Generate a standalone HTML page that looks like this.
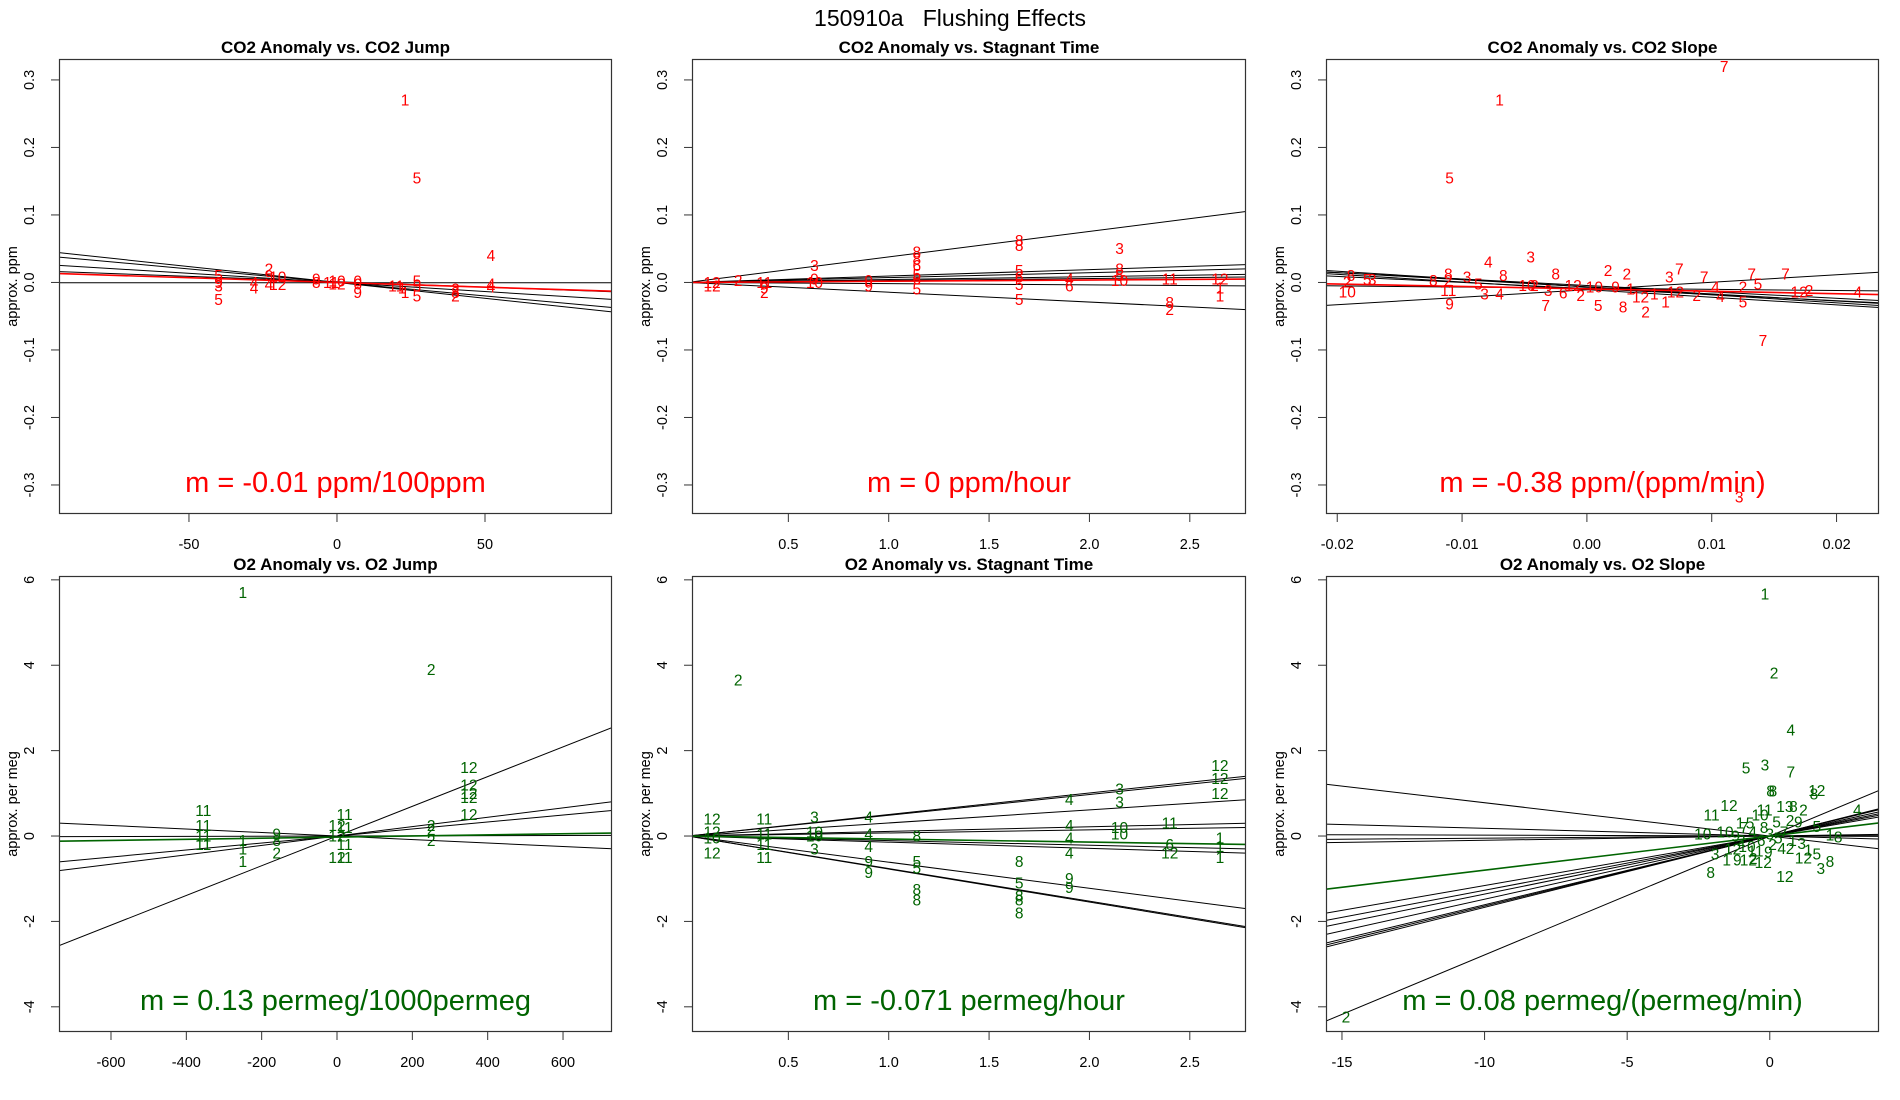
<!DOCTYPE html>
<html><head><meta charset="utf-8"><title>150910a Flushing Effects</title>
<style>
html,body{margin:0;padding:0;background:#fff;}
svg{display:block;font-family:"Liberation Sans",Arial,sans-serif;}
</style></head>
<body>
<svg id="chart" width="1900" height="1100" viewBox="0 0 1900 1100" xmlns="http://www.w3.org/2000/svg">
<rect x="0" y="0" width="1900" height="1100" fill="#fff"/>
<text x="950" y="26" text-anchor="middle" font-size="23" fill="#000">150910a&#160;&#160;&#160;Flushing Effects</text>
</svg>
<script>
// ---------- Panel 1: CO2 Anomaly vs CO2 Jump ----------
const p1X = [23,27,52,-40,-40,-40,-40,-28,-28,-23,-23,-20,-20,-23,-7,-7,-2,0,0,7,7,7,20,22,23,27,27,27,40,40,40,52,52];
const p1Y = [0.27,0.155,0.04,0.01,0,-0.005,-0.025,0,-0.008,0.02,0.01,0.008,-0.003,-0.003,0.005,0,0,0.002,-0.002,0.002,-0.002,-0.015,-0.005,-0.008,-0.015,0.002,-0.005,-0.02,-0.01,-0.015,-0.02,-0.002,-0.007];
const p1L = ['1','5','4','5','9','3','5','4','4','2','9','10','12','4','9','8','11','10','12','0','6','9','11','1','1','5','5','5','2','8','2','4','4'];
const p1LineInt = [0,0,0,0.001,-0.0005];
const p1LineSlope = [-0.00047,-0.0004,-0.00027,-0.00016,0];
const p1FitInt = 0; const p1FitSlope = -0.00014;

// ---------- Panel 2: CO2 Anomaly vs Stagnant Time ----------
const p2X = [0.12,0.12,0.25,0.38,0.38,0.38,0.63,0.63,0.63,0.9,0.9,1.14,1.14,1.14,1.14,1.14,1.14,1.65,1.65,1.65,1.65,1.65,1.65,1.9,1.9,2.15,2.15,2.15,2.15,2.4,2.4,2.4,2.65,2.65,2.65];
const p2Y = [0,-0.005,0.003,0,-0.008,-0.015,0.025,0.005,0,0.003,-0.005,0.045,0.035,0.025,0.012,0.005,-0.01,0.062,0.055,0.018,0.008,-0.003,-0.025,0.005,-0.005,0.05,0.02,0.01,0.003,0.005,-0.03,-0.04,0.005,-0.008,-0.02];
const p2L = ['12','12','2','11','9','2','3','9','10','9','9','8','8','6','5','6','5','8','8','5','6','5','5','4','6','3','8','5','10','11','8','2','12','1','1'];
const p2LineInt = [0,0,0,0,0,0,0,0];
const p2LineSlope = [0.0378,0.0095,0.0072,0.0043,0.0029,0.0018,-0.0018,-0.0145];
const p2FitInt = 0; const p2FitSlope = 0.0018;

// ---------- Panel 3: CO2 Anomaly vs CO2 Slope ----------
const p3X = [0.011,-0.007,-0.011,0.0122,-0.0192,-0.0189,-0.0192,-0.0176,-0.0172,-0.0123,-0.0111,-0.0111,-0.0111,-0.011,-0.0096,-0.0087,-0.0079,-0.0082,-0.0067,-0.007,-0.0045,-0.0048,-0.0042,-0.0033,-0.0025,-0.0031,-0.0019,-0.0011,-0.0005,0.0006,0.0009,0.0017,0.0023,0.0029,0.0032,0.0035,0.0043,0.0047,0.0054,0.0063,0.0066,0.0074,0.0071,0.0088,0.0094,0.0103,0.0107,0.0125,0.0125,0.0132,0.0137,0.0159,0.017,0.0178,0.0217,0.0141];
const p3Y = [0.32,0.27,0.155,-0.318,0.0005,0.0104,-0.0143,0.004,0.004,0.003,0.0128,0.003,-0.0119,-0.0316,0.0079,-0.002,0.03,-0.0168,0.0104,-0.0168,0.0375,-0.0044,-0.0044,-0.034,0.0128,-0.0119,-0.0158,-0.0044,-0.0193,-0.0069,-0.034,0.0178,-0.0069,-0.0366,0.0128,-0.0094,-0.0217,-0.044,-0.0168,-0.029,0.0079,0.0202,-0.0143,-0.0193,0.0079,-0.0069,-0.0207,-0.0069,-0.029,0.0128,-0.002,0.0128,-0.0143,-0.0119,-0.0143,-0.086];
const p3L = ['7','1','5','3','2','8','10','5','3','8','8','2','11','9','3','5','4','3','8','4','3','10','2','7','8','3','6','12','2','10','5','2','9','8','2','1','12','2','1','1','3','7','12','2','7','4','4','2','5','7','5','7','12','2','4','7'];
const p3LineInt = [-0.0108,-0.0067,-0.0106,-0.0065,-0.0045,-0.0085,-0.009];
const p3LineSlope = [1.11,-1.17,-1.13,-1.05,-0.95,-0.17,-0.9];
const p3FitInt = -0.0095; const p3FitSlope = -0.36;

// ---------- Panel 4: O2 Anomaly vs O2 Jump ----------
const p4X = [-250,250,-355,-355,-355,-355,-250,-250,-250,-160,-160,-160,0,0,0,20,20,20,20,250,250,250,350,350,350,350,350];
const p4Y = [5.7,3.9,0.6,0.25,0,-0.2,-0.1,-0.3,-0.6,0.05,-0.1,-0.4,0.25,0,-0.5,0.5,0.2,-0.2,-0.5,0.25,0.15,-0.1,1.6,1.2,1.0,0.9,0.5];
const p4L = ['1','2','11','11','11','11','1','1','1','9','8','2','12','12','12','11','11','11','11','2','2','2','12','12','12','12','12'];
const p4LineInt = [0,0,0,0,0];
const p4LineSlope = [0.00348,0.0011,0.00082,-0.00041,0.00002];
const p4FitInt = -0.025; const p4FitSlope = 0.00013;

// ---------- Panel 5: O2 Anomaly vs Stagnant Time ----------
const p5X = [0.25,0.12,0.12,0.12,0.12,0.38,0.38,0.38,0.38,0.63,0.63,0.63,0.63,0.9,0.9,0.9,0.9,0.9,1.14,1.14,1.14,1.14,1.14,1.65,1.65,1.65,1.65,1.65,1.9,1.9,1.9,1.9,1.9,1.9,2.15,2.15,2.15,2.15,2.4,2.4,2.4,2.65,2.65,2.65,2.65,2.65,2.65];
const p5Y = [3.65,0.4,0.1,-0.05,-0.4,0.4,0.05,-0.2,-0.5,0.45,0.1,0,-0.3,0.45,0.05,-0.25,-0.6,-0.85,0,-0.6,-0.75,-1.25,-1.5,-0.6,-1.1,-1.4,-1.5,-1.8,0.85,0.25,-0.05,-0.4,-1.0,-1.2,1.1,0.8,0.2,0.05,0.3,-0.2,-0.4,1.65,1.35,1.0,-0.05,-0.25,-0.5];
const p5L = ['2','12','12','10','12','11','11','11','11','3','10','10','3','4','4','4','9','9','8','5','5','8','8','8','5','8','8','8','4','4','4','4','9','9','3','3','10','10','11','6','12','12','12','12','1','1','1'];
const p5LineInt = [0,0,0,0,0,0,0,0,0,0];
const p5LineSlope = [0.504,0.486,0.306,0.108,0.072,-0.108,-0.144,-0.612,-0.763,-0.773];
const p5FitInt = 0; const p5FitSlope = -0.071;

// ---------- Panel 6: O2 Anomaly vs O2 Slope ----------
const p6X = [-0.17,0.15,0.74,-0.83,-0.17,0.74,0.11,-14.86,0.03,1.65,1.55,-1.43,-2.04,-0.34,-0.18,0.53,0.83,1.18,3.07,-2.35,-1.57,-1.04,-0.69,0.24,0.71,1.0,1.65,2.11,2.4,-1.92,-1.51,-1.14,-0.75,-0.58,-0.23,-0.05,0.42,0.71,1.12,1.35,1.18,1.65,1.79,2.11,-2.07,0.53,-1.2,-0.9,-0.6,-0.3,0.0,0.3,-0.8,-0.5,0.1,0.5,-1.3,0.8,-0.2,-1.0];
const p6Y = [5.67,3.82,2.48,1.59,1.66,1.5,1.05,-4.24,1.06,1.07,0.99,0.71,0.49,0.49,0.61,0.69,0.69,0.61,0.61,0.05,0.1,0.3,0.3,0.33,0.36,0.33,0.22,0.02,-0.02,-0.42,-0.56,-0.56,-0.56,-0.53,-0.62,-0.37,-0.29,-0.29,-0.17,-0.33,-0.52,-0.42,-0.76,-0.6,-0.86,-0.95,0.0,0.2,0.1,-0.1,0.05,-0.05,-0.25,-0.35,-0.2,0.1,-0.3,-0.1,0.2,-0.1];
const p6L = ['1','2','4','5','3','7','8','2','8','12','8','12','11','10','11','13','8','2','4','10','10','1','5','5','2','9','5','1','8','3','1','9','12','2','12','9','4','2','3','1','12','5','3','8','8','12','9','7','4','6','3','5','10','11','2','7','12','1','8','2'];
const p6LineInt = [0,0,0,0,0,0,0,0,0,0,0,0,0];
const p6LineSlope = [0.2785,0.116,0.127,0.136,0.148,0.161,0.164,0.167,-0.078,-0.018,0.005,0.01,-0.002];
const p6FitInt = 0; const p6FitSlope = 0.08;

const yTicksTop = ['-0.3','-0.2','-0.1','0.0','0.1','0.2','0.3'];
const yTicksBot = ['-4','-2','0','2','4','6'];
const xTicksJumpCO2 = ['-50','0','50'];
const xTicksTime = ['0.5','1.0','1.5','2.0','2.5'];
const xTicksSlopeCO2 = ['-0.02','-0.01','0.00','0.01','0.02'];
const xTicksJumpO2 = ['-600','-400','-200','0','200','400','600'];
const xTicksSlopeO2 = ['-15','-10','-5','0'];

const RED = '#ff0000', GREEN = '#006400';
const NS = 'http://www.w3.org/2000/svg';
const svg = document.getElementById('chart');

function mk(tag, attrs, parent){
  const e = document.createElementNS(NS, tag);
  for (const k in attrs) e.setAttribute(k, attrs[k]);
  (parent||svg).appendChild(e);
  return e;
}

const panels = [
  {id:'co2-jump', title:'CO2 Anomaly vs. CO2 Jump', box:[59,59,612,514], xlim:[-93.9,92.9], ylim:[-0.343,0.331],
   X:p1X,Y:p1Y,L:p1L, li:p1LineInt, ls:p1LineSlope, fi:p1FitInt, fs:p1FitSlope, col:RED,
   xt:xTicksJumpCO2, yt:yTicksTop, ylab:'approx. ppm', m:'m = -0.01 ppm/100ppm'},
  {id:'co2-time', title:'CO2 Anomaly vs. Stagnant Time', box:[692,59,1246,514], xlim:[0.02,2.78], ylim:[-0.343,0.331],
   X:p2X,Y:p2Y,L:p2L, li:p2LineInt, ls:p2LineSlope, fi:p2FitInt, fs:p2FitSlope, col:RED,
   xt:xTicksTime, yt:yTicksTop, ylab:'approx. ppm', m:'m = 0 ppm/hour'},
  {id:'co2-slope', title:'CO2 Anomaly vs. CO2 Slope', box:[1326,59,1879,514], xlim:[-0.0209,0.0234], ylim:[-0.343,0.331],
   X:p3X,Y:p3Y,L:p3L, li:p3LineInt, ls:p3LineSlope, fi:p3FitInt, fs:p3FitSlope, col:RED,
   xt:xTicksSlopeCO2, yt:yTicksTop, ylab:'approx. ppm', m:'m = -0.38 ppm/(ppm/min)'},
  {id:'o2-jump', title:'O2 Anomaly vs. O2 Jump', box:[59,576,612,1032], xlim:[-738,730], ylim:[-4.59,6.09],
   X:p4X,Y:p4Y,L:p4L, li:p4LineInt, ls:p4LineSlope, fi:p4FitInt, fs:p4FitSlope, col:GREEN,
   xt:xTicksJumpO2, yt:yTicksBot, ylab:'approx. per meg', m:'m = 0.13 permeg/1000permeg'},
  {id:'o2-time', title:'O2 Anomaly vs. Stagnant Time', box:[692,576,1246,1032], xlim:[0.02,2.78], ylim:[-4.59,6.09],
   X:p5X,Y:p5Y,L:p5L, li:p5LineInt, ls:p5LineSlope, fi:p5FitInt, fs:p5FitSlope, col:GREEN,
   xt:xTicksTime, yt:yTicksBot, ylab:'approx. per meg', m:'m = -0.071 permeg/hour'},
  {id:'o2-slope', title:'O2 Anomaly vs. O2 Slope', box:[1326,576,1879,1032], xlim:[-15.56,3.83], ylim:[-4.59,6.09],
   X:p6X,Y:p6Y,L:p6L, li:p6LineInt, ls:p6LineSlope, fi:p6FitInt, fs:p6FitSlope, col:GREEN,
   xt:xTicksSlopeO2, yt:yTicksBot, ylab:'approx. per meg', m:'m = 0.08 permeg/(permeg/min)'}
];

panels.forEach((p, pi) => {
  const [x0,y0,x1,y1] = p.box;
  const sx = v => x0 + (v - p.xlim[0]) / (p.xlim[1]-p.xlim[0]) * (x1-x0);
  const sy = v => y1 - (v - p.ylim[0]) / (p.ylim[1]-p.ylim[0]) * (y1-y0);
  const g = mk('g', {});
  
  
  const cp = mk('clipPath', {id:'clip'+pi}, g);
  mk('rect', {x:x0, y:y0, width:x1-x0, height:y1-y0}, cp);

  const t = mk('text', {x:(x0+x1)/2, y:y0-6, 'text-anchor':'middle', 'font-size':17, 'font-weight':'bold'}, g);
  t.textContent = p.title;
  
  

  const lg = mk('g', {'clip-path':'url(#clip'+pi+')'}, g);
  
  
  p.ls.forEach((s, i) => {
    const a = p.li[i];
    const ln = mk('line', {x1:sx(p.xlim[0]), y1:sy(a + s*p.xlim[0]), x2:sx(p.xlim[1]), y2:sy(a + s*p.xlim[1]), stroke:'#000', 'stroke-width':1}, lg);
    
    
  });
  const fl = mk('line', {x1:sx(p.xlim[0]), y1:sy(p.fi + p.fs*p.xlim[0]), x2:sx(p.xlim[1]), y2:sy(p.fi + p.fs*p.xlim[1]), stroke:p.col, 'stroke-width':1.6}, lg);
  
  

  const pg = mk('g', {'clip-path':'url(#clip'+pi+')', fill:p.col, 'font-size':15.5, 'text-anchor':'middle'}, g);
  
  
  p.X.forEach((xv, i) => {
    const tt = mk('text', {x:sx(xv), y:sy(p.Y[i]) + 5.5}, pg);
    tt.textContent = p.L[i];
    
    
  });

  const bx = mk('rect', {x:x0+0.5, y:y0+0.5, width:x1-x0-1, height:y1-y0-1, fill:'none', stroke:'#333', 'stroke-width':1.2}, g);
  
  

  const xa = mk('g', {}, g);
  
  
  p.xt.forEach(lbl => {
    const v = parseFloat(lbl), px = sx(v);
    mk('line', {x1:px, y1:y1, x2:px, y2:y1+8, stroke:'#333'}, xa);
    const tx = mk('text', {x:px, y:y1+35, 'text-anchor':'middle', 'font-size':14.5}, xa);
    tx.textContent = lbl;
    
    
  });
  const ya = mk('g', {}, g);
  
  
  p.yt.forEach(lbl => {
    const v = parseFloat(lbl), py = sy(v);
    mk('line', {x1:x0-8, y1:py, x2:x0, y2:py, stroke:'#333'}, ya);
    const tx = mk('text', {x:x0-25, y:py, 'text-anchor':'middle', 'font-size':14.5, transform:'rotate(-90 '+(x0-25)+' '+py+')'}, ya);
    tx.textContent = lbl;
    
    
  });
  const yl = mk('text', {x:x0-42, y:(y0+y1)/2, 'text-anchor':'middle', 'font-size':14.5, transform:'rotate(-90 '+(x0-42)+' '+((y0+y1)/2)+')'}, g);
  yl.textContent = p.ylab;
  
  

  const mt = mk('text', {x:(x0+x1)/2, y:y1-22, 'text-anchor':'middle', 'font-size':29, fill:p.col}, g);
  mt.textContent = p.m;
  
  
});
</script>
</body></html>
